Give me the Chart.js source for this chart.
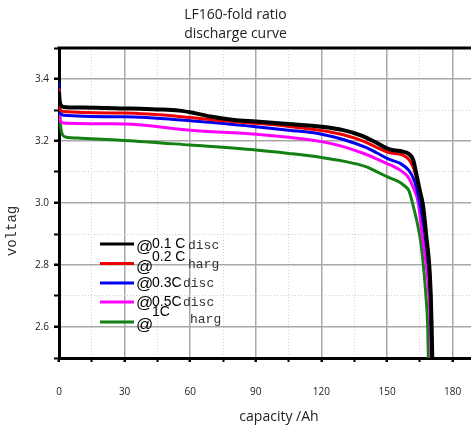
<!DOCTYPE html>
<html lang="en">
<head>
  <meta charset="UTF-8">
  <title>LF160 discharge curve</title>
  <script src="https://cdn.jsdelivr.net/npm/chart.js"></script>
  <style>
    body {
      margin: 0;
      background: #ffffff;
    }
    .chart-box {
      width: 471px;
      height: 428px;
    }
  </style>
</head>
<body>
  <div class="chart-box">
    <canvas id="myChart"></canvas>
  </div>

  <script>
    // Tick values for both axes
    const xTicks = [0, 15, 30, 45, 60, 75, 90, 105, 120, 135, 150, 165, 180];
    const yTicks = [2.5, 2.6, 2.7, 2.8, 2.9, 3.0, 3.1, 3.2, 3.3, 3.4, 3.5];

    // Legend text (as it appears in the picture)
    const rateLabels = ['0.1 C', '0.2 C', '0.3C', '0.5C', '1C'];
    const tailLabels = ['disc', 'harg', 'disc', 'disc', 'harg'];

    // 0.1C discharge
    const cap01 = [0, 0.3, 1, 2, 10, 30, 45, 55, 62, 70, 80, 90, 105, 120, 130, 138, 145, 150, 153, 157, 160, 162, 163.5, 165, 166.5, 168, 169.3, 170, 170.4, 170.7];
    const volt01 = [3.36, 3.33, 3.315, 3.31, 3.308, 3.305, 3.302, 3.298, 3.29, 3.278, 3.268, 3.263, 3.255, 3.246, 3.235, 3.218, 3.195, 3.176, 3.17, 3.166, 3.158, 3.138, 3.09, 3.04, 2.99, 2.89, 2.8, 2.7, 2.6, 2.5];

    // 0.2C discharge
    const cap02 = [0, 0.3, 1, 2, 30, 60, 75, 90, 105, 120, 130, 140, 145, 150, 153, 157, 160, 162, 163.5, 165, 166.5, 168, 169.3, 170, 170.3, 170.6];
    const volt02 = [3.37, 3.31, 3.298, 3.295, 3.29, 3.276, 3.265, 3.257, 3.247, 3.234, 3.22, 3.197, 3.18, 3.165, 3.16, 3.155, 3.14, 3.115, 3.08, 3.035, 2.985, 2.89, 2.8, 2.7, 2.6, 2.5];

    // 0.3C discharge
    const cap03 = [0, 0.3, 1, 2, 30, 60, 90, 105, 120, 130, 140, 145, 150, 153, 156, 160, 162, 163.5, 165, 166.5, 168, 169.2, 169.9, 170.2, 170.5];
    const volt03 = [3.39, 3.3, 3.287, 3.283, 3.278, 3.265, 3.246, 3.235, 3.222, 3.205, 3.18, 3.163, 3.144, 3.136, 3.128, 3.105, 3.08, 3.05, 3.0, 2.94, 2.86, 2.78, 2.7, 2.6, 2.5];

    // 0.5C discharge
    const cap05 = [0, 0.3, 1, 2, 30, 60, 90, 105, 120, 130, 140, 145, 150, 153, 156, 160, 162, 164.3, 166, 168.1, 169.2, 169.8, 170.2];
    const volt05 = [3.36, 3.275, 3.262, 3.258, 3.255, 3.235, 3.222, 3.212, 3.198, 3.182, 3.158, 3.143, 3.127, 3.118, 3.106, 3.08, 3.05, 3.0, 2.9, 2.79, 2.7, 2.6, 2.5];

    // 1C discharge
    const cap1 = [0, 0.3, 0.8, 1.5, 3, 10, 30, 60, 90, 105, 120, 130, 140, 145, 150, 153, 156, 158, 160, 162, 164, 165.5, 166.6, 167.8, 168.6, 168.9];
    const volt1 = [3.37, 3.3, 3.245, 3.222, 3.213, 3.209, 3.202, 3.187, 3.171, 3.16, 3.147, 3.135, 3.118, 3.102, 3.085, 3.076, 3.066, 3.055, 3.04, 2.99, 2.93, 2.87, 2.8, 2.7, 2.6, 2.5];

    function toPoints(xs, ys) {
      return xs.map((x, i) => ({ x: x, y: ys[i] }));
    }

    function isMajorX(v) {
      return v % 30 === 0;
    }
    function isMajorY(v) {
      return Math.round(v * 10) % 2 === 0;
    }

    // Axis titles, top frame line and the odd-looking legend
    const decorPlugin = {
      id: 'decor',
      afterDraw(chart) {
        const c = chart.ctx;
        const area = chart.chartArea;
        c.save();

        // top frame line
        c.strokeStyle = '#000';
        c.lineWidth = 3;
        c.beginPath();
        c.moveTo(area.left - 1.5, area.top);
        c.lineTo(area.right, area.top);
        c.stroke();

        // axis titles
        c.fillStyle = '#222';
        c.font = '14px "Open Sans"';
        c.textAlign = 'center';
        c.textBaseline = 'middle';
        c.fillText('capacity /Ah', 279, 417);

        c.save();
        c.translate(12, 231);
        c.rotate(-Math.PI / 2);
        c.font = '14px "Liberation Mono"';
        c.fillStyle = '#333';
        c.fillText('voltag', 0, 0);
        c.restore();

        // legend
        const lineY = [244, 263.5, 283, 302, 322];
        const atY = [247, 267, 284, 303, 325];
        const rateY = [244, 257, 283, 302, 312];
        const tailX = [188, 188, 183, 183, 190];
        const tailY = [246, 265, 284, 303, 320];
        c.textAlign = 'left';
        chart.data.datasets.forEach((ds, i) => {
          c.strokeStyle = ds.borderColor;
          c.lineWidth = 3;
          c.beginPath();
          c.moveTo(100, lineY[i]);
          c.lineTo(134, lineY[i]);
          c.stroke();

          c.fillStyle = '#000';
          c.font = '14px "Liberation Sans"';
          c.fillText(rateLabels[i], 152, rateY[i]);
          c.font = '17px "Liberation Sans"';
          c.fillText('@', 136, atY[i]);
          c.fillStyle = '#333';
          c.font = '13px "Liberation Mono"';
          c.fillText(tailLabels[i], tailX[i], tailY[i]);
        });

        c.restore();
      }
    };

    const ctx = document.getElementById('myChart').getContext('2d');
    Chart.defaults.font.family = '"Open Sans", sans-serif';
    Chart.defaults.color = '#222';

    const config = {
      type: 'line',
      data: {
        datasets: [
          { label: '0.1C', data: toPoints(cap01, volt01), borderColor: '#000000', borderWidth: 4 },
          { label: '0.2C', data: toPoints(cap02, volt02), borderColor: '#ee0000', borderWidth: 3 },
          { label: '0.3C', data: toPoints(cap03, volt03), borderColor: '#0000ee', borderWidth: 3 },
          { label: '0.5C', data: toPoints(cap05, volt05), borderColor: '#ff00ff', borderWidth: 3 },
          { label: '1C', data: toPoints(cap1, volt1), borderColor: '#138013', borderWidth: 3 }
        ]
      },
      options: {
        responsive: true,
        maintainAspectRatio: false,
        animation: false,
        devicePixelRatio: 1,
        layout: { padding: 0 },
        elements: {
          point: { radius: 0 },
          line: { cubicInterpolationMode: 'monotone', fill: false }
        },
        plugins: {
          legend: { display: false },
          tooltip: { enabled: false },
          title: {
            display: true,
            text: ['LF160-fold ratio', 'discharge curve'],
            color: '#222',
            font: { size: 14, weight: 'normal', lineHeight: 1.35 },
            padding: { top: 6, bottom: 4.2 }
          }
        },
        scales: {
          x: {
            type: 'linear',
            min: 0,
            max: 188.4,
            afterBuildTicks: (s) => { s.ticks = xTicks.map(v => ({ value: v })); },
            afterFit: (s) => { s.height = 70; s.paddingLeft = 0; s.paddingRight = 0; },
            ticks: {
              font: { size: 10 },
              padding: 24,
              maxRotation: 0,
              autoSkip: false,
              callback: (v) => isMajorX(v) ? String(v) : ''
            },
            grid: {
              color: (c) => isMajorX(c.tick.value) ? '#a8a8a8' : '#cfcfcf',
              lineWidth: (c) => isMajorX(c.tick.value) ? 1.5 : 1,
              tickColor: '#000',
              tickLength: 4,
              tickWidth: (c) => isMajorX(c.tick.value) ? 2.5 : 2
            },
            border: {
              color: '#000',
              width: 3,
              dash: (c) => (c.tick && !isMajorX(c.tick.value)) ? [1, 2] : []
            }
          },
          y: {
            type: 'linear',
            min: 2.5,
            max: 3.5,
            afterBuildTicks: (s) => { s.ticks = yTicks.map(v => ({ value: v })); },
            afterFit: (s) => { s.width = 59; s.paddingTop = 0; s.paddingBottom = 0; },
            ticks: {
              font: { size: 10 },
              padding: 5,
              autoSkip: false,
              callback: (v) => isMajorY(v) ? v.toFixed(1) : ''
            },
            grid: {
              color: (c) => isMajorY(c.tick.value) ? '#a8a8a8' : '#cfcfcf',
              lineWidth: (c) => isMajorY(c.tick.value) ? 1.5 : 1,
              tickColor: '#000',
              tickLength: 5,
              tickWidth: (c) => isMajorY(c.tick.value) ? 2.5 : 2
            },
            border: {
              color: '#000',
              width: 3,
              dash: (c) => (c.tick && !isMajorY(c.tick.value)) ? [1, 2] : []
            }
          }
        }
      },
      plugins: [decorPlugin]
    };

    const myChart = new Chart(ctx, config);
  </script>
</body>
</html>
